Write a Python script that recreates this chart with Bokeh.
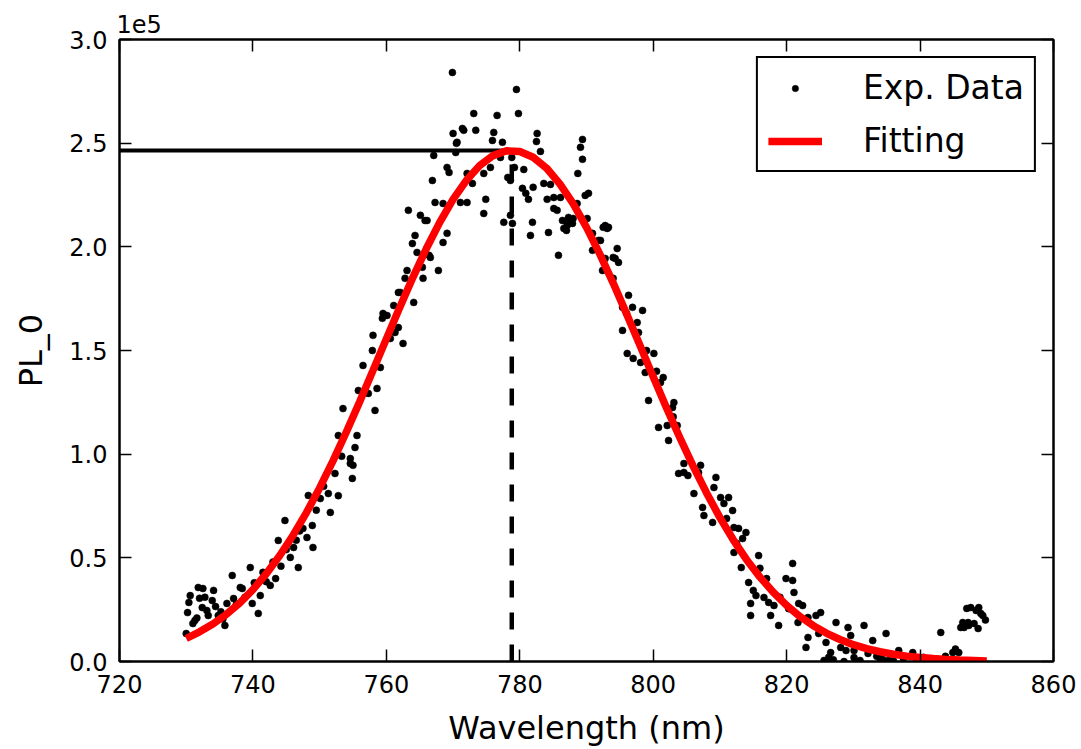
from bokeh.plotting import figure
from bokeh.models import (Range1d, LinearAxis, FixedTicker, CustomJSTickFormatter,
                          Legend, LegendItem, ColumnDataSource)
from bokeh.embed import file_html
from bokeh.resources import INLINE

# ---------------- data ----------------
# experimental points: wavelength (nm) and PL intensity (in units of 1e3 counts)
exp_wl = [
    730.0, 730.6, 730.2, 731.0, 731.8, 732.5, 732.4, 733.1, 733.9, 734.1, 733.3, 731.3,
    734.8, 735.8, 736.1, 736.9, 737.1, 738.1, 738.4, 739.6, 739.9, 740.8, 741.1, 742.6,
    743.4, 743.8, 744.8, 745.6, 746.1, 746.8, 747.5, 748.1, 748.9, 749.0, 748.3, 750.1,
    751.3, 751.6, 752.3, 754.9, 754.6,
    730.4, 731.6, 732.0, 732.8, 734.4, 735.2, 735.5, 737.5, 738.8, 740.2, 741.5, 742.0,
    743.0, 744.2, 745.0, 746.5, 747.0, 749.5, 750.6, 752.8, 753.3,
    754.6, 755.0, 755.6, 752.8, 755.3, 753.5, 758.3, 755.8, 757.3, 758.6, 756.5, 759.1,
    757.9, 758.0, 762.5, 760.6, 761.3, 761.8, 759.5, 759.4, 760.1, 761.1, 764.1, 761.8,
    762.8, 763.1, 765.5, 765.4, 767.8, 766.6, 764.6, 763.9, 764.3, 768.5, 769.1, 763.3,
    765.1, 765.8, 767.3, 766.9,
    770.0, 771.6, 770.5, 767.1, 770.4, 769.1, 769.4, 771.1, 772.1, 766.1, 766.4, 762.1,
    769.9, 779.5, 773.1, 776.6, 779.8, 771.4, 773.4, 776.1, 775.9, 777.4, 782.6, 782.5,
    783.1, 789.4, 789.1, 789.4, 788.7, 770.6, 777.1, 778.8, 779.2, 780.6, 778.2, 778.6,
    774.6, 775.6, 772.9, 772.1, 780.4, 780.9, 782.0, 783.6, 784.6, 785.1, 786.1, 784.1,
    781.3, 789.8, 790.3, 788.6, 785.1, 785.6, 774.9, 768.5, 774.6, 786.4, 787.3, 787.2,
    787.9, 786.6, 787.0, 788.0, 790.1, 792.8, 793.1, 778.6, 778.9, 777.6, 781.9, 781.6,
    784.3, 790.9, 792.1, 794.6, 794.0, 785.8,
    787.1, 787.5, 792.5, 793.3, 791.8, 790.9, 794.3, 794.8, 792.4, 792.8, 794.0, 796.3,
    796.9, 795.4, 798.4, 797.6, 795.4, 797.8, 796.1, 797.0, 798.1, 800.1, 798.8, 801.5,
    801.1, 799.3, 803.1, 802.9, 800.8, 802.1, 803.6, 802.3, 803.8, 805.2, 807.1, 809.4,
    804.6, 796.0, 799.0, 800.5, 803.0,
    804.6, 806.1, 806.8, 809.1, 810.1, 811.3, 810.6, 807.4, 807.6, 808.9, 811.9, 812.1,
    812.8, 813.4, 813.9, 812.1, 815.8, 813.2, 814.3, 817.0, 815.0, 815.4, 816.6, 814.6,
    814.6, 817.6, 817.3, 818.1, 818.8, 820.9, 819.9, 820.9, 821.1, 821.8, 822.4, 821.7,
    823.2, 824.4, 825.1, 823.2, 822.9, 824.8, 825.9, 826.6, 827.4, 829.2, 829.6, 828.1,
    828.9, 830.1, 831.6, 832.9, 832.2, 830.1, 834.9, 834.4, 836.8, 838.9, 825.6, 828.6,
    843.1, 844.9, 845.8, 846.6, 847.2, 848.1, 848.7, 847.0, 847.6, 848.8, 849.1, 849.4,
    848.4, 846.4, 847.3, 846.1,
    834.0, 834.6, 835.3, 836.0, 837.5, 839.5, 840.5, 841.5, 842.5, 843.8, 845.3, 849.8,
    826.3, 827.0, 831.0, 833.5, 816.0, 819.0, 820.3, 811.0, 812.5,
]
exp_pl_k = [
    13.5, 31.8, 23.6, 18.3, 35.7, 35.2, 26.0, 24.6, 29.4, 34.3, 22.2, 19.8,
    22.2, 17.4, 28.0, 41.5, 30.4, 35.7, 35.2, 45.3, 28.0, 23.2, 31.8, 36.7,
    40.0, 58.4, 68.0, 50.2, 55.0, 45.3, 64.2, 59.8, 65.6, 55.0, 80.1, 78.6,
    81.0, 71.9, 90.7, 88.3, 95.5,
    28.5, 21.0, 30.5, 31.0, 26.5, 24.0, 20.5, 27.5, 31.0, 38.0, 43.0, 38.5,
    48.0, 46.0, 54.0, 58.5, 63.0, 73.0, 84.5, 80.0, 99.0,
    97.9, 94.6, 109.0, 109.0, 103.2, 122.0, 121.1, 130.7, 129.3, 131.7, 142.8, 141.8,
    150.0, 157.3, 153.4, 155.8, 158.7, 161.1, 167.9, 165.5, 166.9, 171.7, 173.2, 178.0,
    184.8, 188.6, 184.8, 190.1, 188.6, 194.9, 197.3, 201.6, 205.5, 202.1, 206.5, 217.6,
    215.2, 212.7, 221.4, 232.0,
    254.7, 256.2, 249.9, 244.1, 245.5, 238.3, 235.9, 221.4, 221.4, 212.7, 195.9, 178.0,
    284.1, 275.9, 264.3, 263.4, 264.3, 257.1, 256.2, 255.2, 251.3, 250.4, 254.7, 250.8,
    246.0, 251.8, 248.0, 242.2, 235.4, 250.4, 243.1, 243.1, 238.3, 237.3, 233.5, 232.0,
    235.4, 238.3, 230.6, 235.4, 228.2, 225.8, 228.7, 230.6, 230.1, 223.8, 223.8, 222.9,
    222.9, 224.8, 225.8, 220.9, 218.5, 217.6, 222.9, 220.9, 216.1, 212.7, 214.2, 211.3,
    211.3, 208.9, 207.9, 213.7, 213.7, 210.3, 208.9, 215.2, 211.3, 211.8, 211.8, 205.5,
    206.9, 206.5, 203.1, 199.2, 194.9, 195.9,
    210.3, 212.7, 209.4, 209.4, 203.1, 198.3, 194.4, 192.5, 188.6, 194.4, 184.8, 176.6,
    170.8, 170.8, 169.3, 163.5, 159.7, 158.7, 148.6, 146.2, 144.2, 148.6, 139.4, 137.0,
    134.6, 125.9, 124.9, 122.5, 112.9, 113.8, 113.8, 106.6, 90.7, 89.7, 94.6, 88.8,
    95.5, 168.0, 150.0, 140.0, 118.0,
    91.2, 81.0, 91.2, 83.9, 79.1, 79.1, 76.2, 74.3, 70.4, 67.1, 72.8, 64.6,
    64.2, 59.3, 62.2, 52.6, 51.1, 45.3, 38.1, 40.0, 34.3, 31.8, 30.9, 28.0,
    22.2, 22.2, 28.5, 27.0, 17.4, 47.3, 40.0, 39.1, 33.3, 28.0, 27.0, 18.8,
    21.2, 22.2, 23.6, 11.6, 6.8, 13.5, 9.2, 4.3, 18.8, 16.4, 12.5, 6.8,
    5.3, 1.9, 17.4, 10.1, 3.9, 5.3, 13.5, 3.9, 5.3, 4.3, 0.5, 0.0,
    14.0, 4.3, 4.3, 16.4, 18.8, 18.3, 15.9, 25.6, 26.0, 26.0, 23.2, 22.2,
    24.6, 18.8, 17.4, 16.4,
    1.4, 0.5, 0.5, 0.5, 1.5, 1.0, 2.0, 0.5, 1.0, 2.5, 6.0, 20.0,
    2.0, 0.8, 0.5, 2.5, 45.0, 31.0, 25.5, 69.0, 57.0,
]

# fitted curve (1e3 counts), every 2 nm
fit_wl = [730, 732, 734, 736, 738, 740, 742, 744, 746, 748, 750, 752, 754, 756, 758, 760,
          762, 764, 766, 768, 770, 772, 774, 776, 778, 780, 782, 784, 786, 788, 790, 792,
          794, 796, 798, 800, 802, 804, 806, 808, 810, 812, 814, 816, 818, 820, 822, 824,
          826, 828, 830, 832, 834, 836, 838, 840, 842, 844, 846, 848, 850]
fit_pl_k = [11.1, 14.3, 18.1, 22.7, 28.2, 34.7, 42.3, 51.0, 60.8, 71.7, 83.7, 96.8, 110.7,
            125.3, 140.4, 155.6, 170.7, 185.4, 199.2, 211.8, 222.9, 232.1, 239.2, 244.0,
            246.3, 246.0, 243.2, 238.0, 230.4, 220.8, 209.4, 196.5, 182.5, 167.7, 152.6,
            137.3, 122.3, 107.9, 94.1, 81.3, 69.4, 58.7, 49.1, 40.7, 33.4, 27.1, 21.7,
            17.3, 13.6, 10.6, 8.1, 6.2, 4.7, 3.5, 2.6, 1.9, 1.4, 1.0, 0.7, 0.5, 0.3]

peak_wl = 778.8      # nm
peak_pl_k = 246.5    # 1e3 counts

x_ticks = [720, 740, 760, 780, 800, 820, 840, 860]
y_ticks_1e5 = [0.0, 0.5, 1.0, 1.5, 2.0, 2.5, 3.0]

# ---------------- figure ----------------
FONT = "DejaVu Sans"
x_lo, x_hi = 720, 860
y_lo, y_hi = 0, 3.0e5

p = figure(width=1081, height=749, output_backend="svg", toolbar_location=None,
           x_range=Range1d(x_lo, x_hi), y_range=Range1d(y_lo, y_hi),
           min_border_left=119, min_border_right=28, min_border_top=39,
           min_border_bottom=88, background_fill_color="white",
           border_fill_color="white", title="1e5")
p.grid.visible = False
p.outline_line_color = "black"
p.outline_line_width = 2
p.outline_line_alpha = 1.0

p.title.align = "left"
p.title.vertical_align = "top"
p.title.text_font = FONT
p.title.text_font_size = "24px"
p.title.text_font_style = "normal"
p.title.text_color = "black"
p.title.offset = -3
p.title.standoff = 10

xt = FixedTicker(ticks=x_ticks)
yt = FixedTicker(ticks=[v * 1e5 for v in y_ticks_1e5])
xfmt = CustomJSTickFormatter(code="return tick.toFixed(0)")
yfmt = CustomJSTickFormatter(code="return (tick/1e5).toFixed(1)")
blank = CustomJSTickFormatter(code="return ''")

def style_axis(ax, show_labels):
    ax.major_tick_in = 12
    ax.major_tick_out = 0
    ax.minor_tick_in = 0
    ax.minor_tick_out = 0
    ax.major_tick_line_color = "black"
    ax.major_tick_line_width = 1.5
    ax.axis_line_color = "black"
    ax.axis_line_width = 2
    ax.major_label_text_font = FONT
    ax.major_label_text_font_size = "24px" if show_labels else "0px"
    ax.major_label_text_color = "black"
    ax.axis_label_text_font = FONT
    ax.axis_label_text_font_size = "32px"
    ax.axis_label_text_font_style = "normal"
    ax.axis_label_text_color = "black"

xa = p.xaxis[0]
xa.ticker = xt
xa.formatter = xfmt
style_axis(xa, True)
xa.axis_label = "Wavelength (nm)"
xa.major_label_standoff = 13
xa.axis_label_standoff = 13

ya = p.yaxis[0]
ya.ticker = yt
ya.formatter = yfmt
style_axis(ya, True)
ya.axis_label = "PL_0"
ya.major_label_standoff = 12
ya.axis_label_standoff = 16

top_ax = LinearAxis(ticker=xt, formatter=blank, major_label_standoff=4)
style_axis(top_ax, False)
p.add_layout(top_ax, "above")
right_ax = LinearAxis(ticker=yt, formatter=blank, major_label_standoff=0)
style_axis(right_ax, False)
p.add_layout(right_ax, "right")

# reference lines at the fitted peak
p.segment(x0=[x_lo], y0=[peak_pl_k * 1e3], x1=[peak_wl], y1=[peak_pl_k * 1e3],
          line_color="black", line_width=4)
p.segment(x0=[peak_wl], y0=[y_lo], x1=[peak_wl], y1=[peak_pl_k * 1e3],
          line_color="black", line_width=4.5, line_dash="17 15")

src_exp = ColumnDataSource(dict(x=exp_wl, y=[v * 1e3 for v in exp_pl_k]))
sc = p.scatter("x", "y", source=src_exp, marker="circle", size=7,
               fill_color="black", line_color="black", line_width=0.5)

src_fit = ColumnDataSource(dict(x=fit_wl, y=[v * 1e3 for v in fit_pl_k]))
fit = p.line("x", "y", source=src_fit, line_color="#ff0000", line_width=7.5)

legend = Legend(items=[LegendItem(label="Exp. Data", renderers=[sc]),
                       LegendItem(label="Fitting", renderers=[fit])],
                location="top_right", margin=17, padding=10, spacing=14,
                glyph_width=54, glyph_height=16, label_height=38, label_standoff=41,
                label_text_font=FONT, label_text_font_size="33px",
                label_text_color="black", border_line_color="black",
                border_line_width=2, border_line_alpha=1.0,
                background_fill_color="white", background_fill_alpha=1.0)
p.add_layout(legend, "center")

open("out.html", "w").write(file_html(p, INLINE))
